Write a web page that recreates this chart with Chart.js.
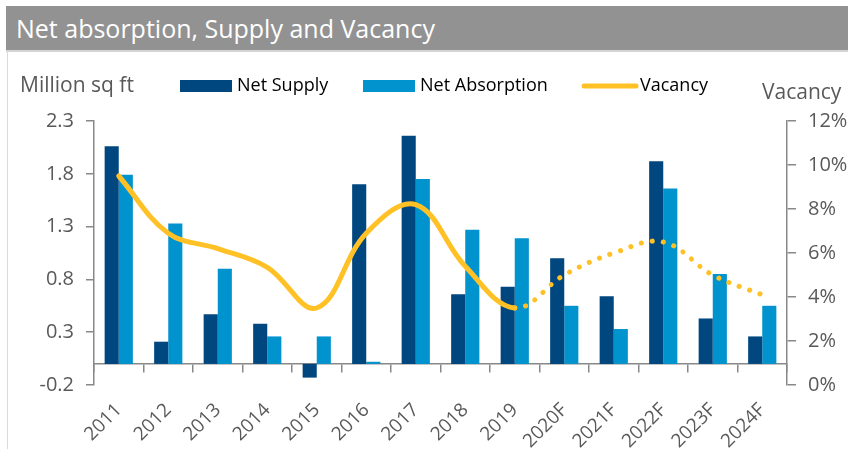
<!DOCTYPE html>
<html>
<head>
<meta charset="utf-8">
<script src="https://cdn.jsdelivr.net/npm/chart.js@4.4.1/dist/chart.umd.min.js"></script>
<style>
  html, body { margin: 0; padding: 0; background: #fff; }
  #wrap { position: relative; width: 848px; height: 449px; overflow: hidden; }
  #titleBar {
    position: absolute; left: 6px; top: 6px; width: 842px; height: 46px;
    background: #929292; color: #fff; font-family: "Open Sans", sans-serif;
    font-size: 25px; line-height: 44px; padding-left: 10px; box-sizing: border-box;
    border-bottom: 2px solid #d4d4d4; z-index: 2; white-space: nowrap;
  }
  #leftEdge { position: absolute; left: 7px; top: 52px; width: 1px; height: 397px; background: #d9d9d9; }
  #chart { position: absolute; left: 0; top: 0; }
</style>
</head>
<body>
<div id="wrap">
  <div id="titleBar">Net absorption, Supply and Vacancy</div>
  <div id="leftEdge"></div>
  <canvas id="chart" width="848" height="449"></canvas>
</div>
<script>
var years = ['2011', '2012', '2013', '2014', '2015', '2016', '2017', '2018', '2019', '2020F', '2021F', '2022F', '2023F', '2024F'];
var netSupply = [2.06, 0.21, 0.47, 0.38, -0.13, 1.70, 2.16, 0.66, 0.73, 1.00, 0.64, 1.92, 0.43, 0.26];
var netAbsorption = [1.79, 1.33, 0.90, 0.26, 0.26, 0.02, 1.75, 1.27, 1.19, 0.55, 0.33, 1.66, 0.85, 0.55];
var vacancy = [9.5, 6.9, 6.2, 5.35, 3.5, 6.9, 8.2, 5.4, 3.5, 5.0, 6.0, 6.5, 5.0, 4.1];
var lastActual = 8; // 2019 is the last actual year, forecasts are dotted

var axisGrey = '#888888';
var labelGrey = '#595959';
var font = '"Open Sans", sans-serif';

var headerPlugin = {
    id: 'header',
    afterDraw: function(chart) {
        var ctx = chart.ctx;
        var ds = chart.data.datasets;
        ctx.save();
        ctx.textBaseline = 'middle';
        ctx.textAlign = 'left';
        ctx.font = '21px ' + font;
        ctx.fillStyle = labelGrey;
        ctx.fillText('Million sq ft', 20, 86);
        ctx.fillText('Vacancy', 762, 93);

        ctx.font = '18px ' + font;
        ctx.fillStyle = ds[0].backgroundColor;
        ctx.fillRect(180, 80, 52, 12);
        ctx.fillStyle = '#000';
        ctx.fillText(ds[0].label, 237, 86);

        ctx.fillStyle = ds[1].backgroundColor;
        ctx.fillRect(363, 80, 52, 12);
        ctx.fillStyle = '#000';
        ctx.fillText(ds[1].label, 420, 86);

        ctx.strokeStyle = ds[2].borderColor;
        ctx.lineWidth = 5;
        ctx.lineCap = 'round';
        ctx.beginPath();
        ctx.moveTo(584, 86);
        ctx.lineTo(636, 86);
        ctx.stroke();
        ctx.fillStyle = '#000';
        ctx.fillText(ds[2].label, 640, 86);
        ctx.restore();
    }
};

var ctx = document.getElementById('chart').getContext('2d');
new Chart(ctx, {
    type: 'bar',
    data: {
        labels: years,
        datasets: [{
            label: 'Net Supply',
            data: netSupply,
            backgroundColor: '#00477F',
            borderWidth: 0,
            categoryPercentage: 0.57,
            barPercentage: 1,
            yAxisID: 'y',
            order: 1
        }, {
            label: 'Net Absorption',
            data: netAbsorption,
            backgroundColor: '#0093CE',
            borderWidth: 0,
            categoryPercentage: 0.57,
            barPercentage: 1,
            yAxisID: 'y',
            order: 1
        }, {
            type: 'line',
            label: 'Vacancy',
            data: vacancy,
            borderColor: '#FFC125',
            backgroundColor: '#FFC125',
            borderWidth: 5,
            borderCapStyle: 'round',
            borderJoinStyle: 'round',
            pointRadius: 0,
            tension: 0.38,
            fill: false,
            yAxisID: 'y1',
            order: 0,
            segment: {
                borderDash: function(c) { return c.p0DataIndex >= lastActual ? [0.1, 11] : undefined; }
            }
        }]
    },
    options: {
        responsive: false,
        animation: false,
        layout: { padding: { top: 121, left: 0, right: 0, bottom: 0 } },
        plugins: {
            legend: { display: false },
            tooltip: { enabled: false }
        },
        scales: {
            x: {
                position: 'bottom',
                offset: true,
                border: { display: false },
                grid: { display: false },
                ticks: {
                    autoSkip: false,
                    minRotation: 45,
                    maxRotation: 45,
                    padding: 6,
                    color: labelGrey,
                    font: { family: font, size: 19 }
                },
                afterFit: function(s) { s.height = 64; }
            },
            xZero: {
                type: 'category',
                position: { y: 0 },
                offset: true,
                border: { display: true, color: axisGrey, width: 1.5 },
                grid: { offset: true, drawOnChartArea: false, drawTicks: true, tickLength: 8, color: axisGrey, lineWidth: 1.5 },
                ticks: { display: false }
            },
            y: {
                position: 'left',
                min: -0.2,
                max: 2.3,
                border: { display: true, color: axisGrey, width: 1.5 },
                grid: { drawOnChartArea: false, drawTicks: true, tickLength: 8, color: axisGrey, lineWidth: 1.5 },
                ticks: {
                    stepSize: 0.5,
                    padding: 12,
                    color: labelGrey,
                    font: { family: font, size: 20 },
                    callback: function(v) { return v.toFixed(1); }
                },
                afterFit: function(s) { s.width = 94; }
            },
            y1: {
                position: 'right',
                min: 0,
                max: 12,
                border: { display: true, color: axisGrey, width: 1.5 },
                grid: { drawOnChartArea: false, drawTicks: true, tickLength: 9, color: axisGrey, lineWidth: 1.5 },
                ticks: {
                    stepSize: 2,
                    padding: 12,
                    color: labelGrey,
                    font: { family: font, size: 20 },
                    callback: function(v) { return v + '%'; }
                },
                afterFit: function(s) { s.width = 61; }
            }
        }
    },
    plugins: [headerPlugin]
});
</script>
</body>
</html>
